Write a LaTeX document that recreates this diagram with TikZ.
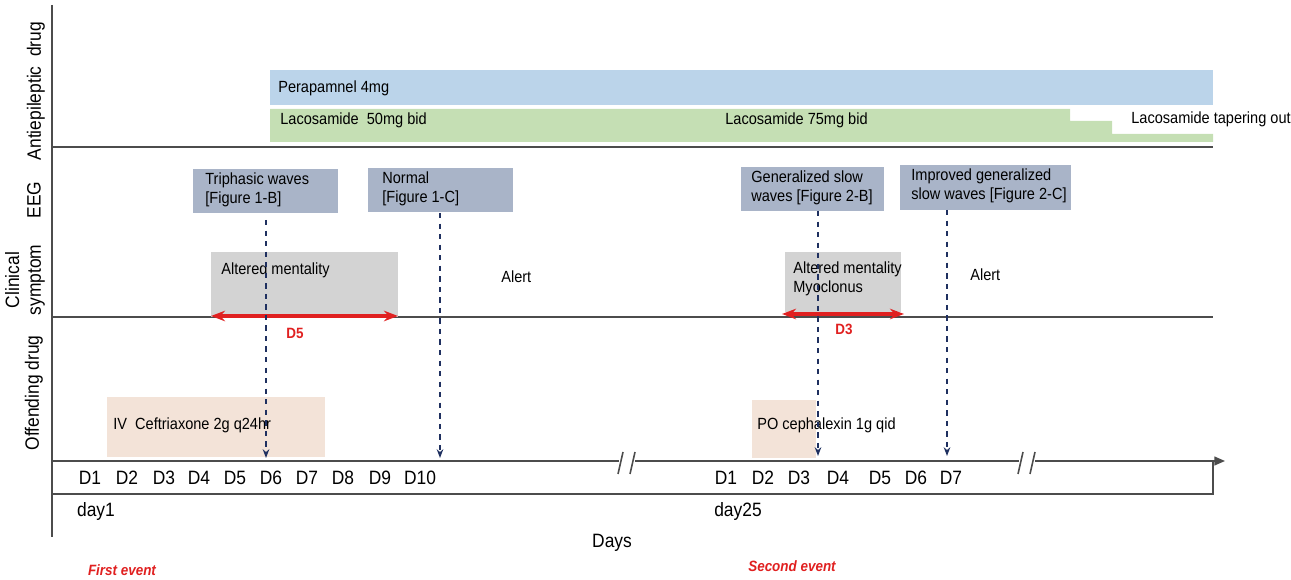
\documentclass[tikz,border=0pt]{standalone}
\usepackage{fontspec}
\setmainfont[FakeStretch=0.9]{Liberation Sans}
\usetikzlibrary{arrows.meta}
\begin{document}
\begin{tikzpicture}[x=0.02cm,y=-0.02cm,
  ax/.style={draw=black!70,line width=0.8pt},
  lbl/.style={font=\fontsize{9.2}{10.5}\selectfont,anchor=west,align=left,inner sep=0},
  dl/.style={font=\fontsize{11}{12}\selectfont,inner sep=0},
  rowl/.style={font=\fontsize{11}{12.5}\selectfont,rotate=90,align=center},
  dsh/.style={draw=navy,dashed,line width=1.1pt,-{Stealth[length=5pt]}},
  red2/.style={draw=redc,line width=2.2pt,{Stealth[length=8pt]}-{Stealth[length=8pt]}},
  redt/.style={text=redc,font=\bfseries\fontsize{8.5}{10}\selectfont}]
\definecolor{eegc}{HTML}{A9B4C8}
\definecolor{symc}{HTML}{D3D3D3}
\definecolor{offc}{HTML}{F3E3D8}
\definecolor{bluec}{HTML}{BBD4EA}
\definecolor{greenc}{HTML}{C5DFB4}
\definecolor{navy}{HTML}{1F3060}
\definecolor{redc}{HTML}{E02020}
\useasboundingbox (0,0) rectangle (1291,580);
% bars
\fill[bluec] (270,70) rectangle (1213,105);
\fill[greenc] (270,109) -- (1070,109) -- (1070,121) -- (1112,121) -- (1112,134) -- (1213,134) -- (1213,142) -- (270,142) -- cycle;
\node[lbl] (pera) at (278,88) {Perapamnel 4mg};
\node[lbl] (laco1) at (280,120) {Lacosamide\ \ 50mg bid};
\node[lbl] (laco2) at (725,120) {Lacosamide 75mg bid};
\node[lbl] (laco3) at (1131,119) {Lacosamide tapering out};
% axes
\draw[ax] (52,5) -- (52,537);
\draw[ax] (52,147) -- (1213,147);
\draw[ax] (52,317) -- (1213,317);
\draw[ax] (52,494) -- (1213,494) -- (1213,461);
\coordinate (tl0) at (52,461);
\coordinate (tl1) at (1225,461);
\draw[ax,-{Triangle[length=6pt,width=5pt]}] (tl0) -- (tl1);
\foreach \x in {627,1027}{
  \fill[white] (\x-8,456) rectangle (\x+8,466);
  \draw[black!70,line width=0.9pt] (\x-9,474) -- (\x-4,452) (\x+3,474) -- (\x+8,452);}
% EEG boxes
\fill[eegc] (193,169) rectangle (338,213);
\node[lbl] (e1) at (205,190) {Triphasic waves\\{[Figure 1-B]}};
\fill[eegc] (368,168) rectangle (513,212);
\node[lbl] (e2) at (382,189) {Normal\\{[Figure 1-C]}};
\fill[eegc] (741,167) rectangle (884,211);
\node[lbl] (e3) at (751,188) {Generalized slow\\waves [Figure 2-B]};
\fill[eegc] (900,165) rectangle (1071,210);
\node[lbl] (e4) at (911,186) {Improved generalized\\slow waves [Figure 2-C]};
% symptom boxes
\fill[symc] (211,252) rectangle (398,317);
\node[lbl] (s1) at (221,270) {Altered mentality};
\fill[symc] (785,252) rectangle (901,312);
\node[lbl] (s2) at (793,279) {Altered mentality\\Myoclonus};
\node[lbl] (a1) at (501,277) {Alert};
\node[lbl] (a2) at (970,275) {Alert};
% offending
\fill[offc] (107,397) rectangle (325,457);
\node[lbl] (o1) at (113,425) {IV\ \ Ceftriaxone 2g q24hr};
\fill[offc] (752,400) rectangle (816,458);
\node[lbl] (o2) at (757,425) {PO cephalexin 1g qid};
% red arrows
\coordinate (r1a) at (211,316); \coordinate (r1b) at (398,316);
\coordinate (r2a) at (782,314); \coordinate (r2b) at (904,314);
\draw[red2] (r1a) -- (r1b);
\draw[red2] (r2a) -- (r2b);
\node[redt] (d5) at (295,333) {D5};
\node[redt] (d3) at (844,329) {D3};
% dashed
\coordinate (q1) at (266,458); \coordinate (q2) at (440,458);
\coordinate (q3) at (818,456); \coordinate (q4) at (947,456);
\draw[dsh] (266,220) -- (q1);
\draw[dsh] (440,213) -- (q2);
\draw[dsh] (818,211) -- (q3);
\draw[dsh] (947,210) -- (q4);
% day labels
\foreach \x/\t in {90/D1,127/D2,164/D3,199/D4,235/D5,271/D6,307/D7,343/D8,380/D9,420/D10,726/D1,763/D2,799/D3,838/D4,880/D5,916/D6,951/D7}
  \node[dl] at (\x,478) {\t};
\node[dl] (day1) at (96,512) {day1};
\node[dl] (day25) at (738,512) {day25};
\node[dl] (days) at (612,543) {Days};
\node[redt,font=\bfseries\itshape\fontsize{8.5}{10}\selectfont] (fe) at (122,570) {First event};
\node[redt,font=\bfseries\itshape\fontsize{8.5}{10}\selectfont] (se) at (792,566) {Second event};
% row labels
\node[rowl] (r1) at (36,91) {Antiepileptic\ \ drug};
\node[rowl] (r2) at (34,200) {EEG};
\node[rowl] (r3) at (25,280) {Clinical\\symptom};
\node[rowl] (r4) at (34,393) {Offending drug};
\end{tikzpicture}
\end{document}
